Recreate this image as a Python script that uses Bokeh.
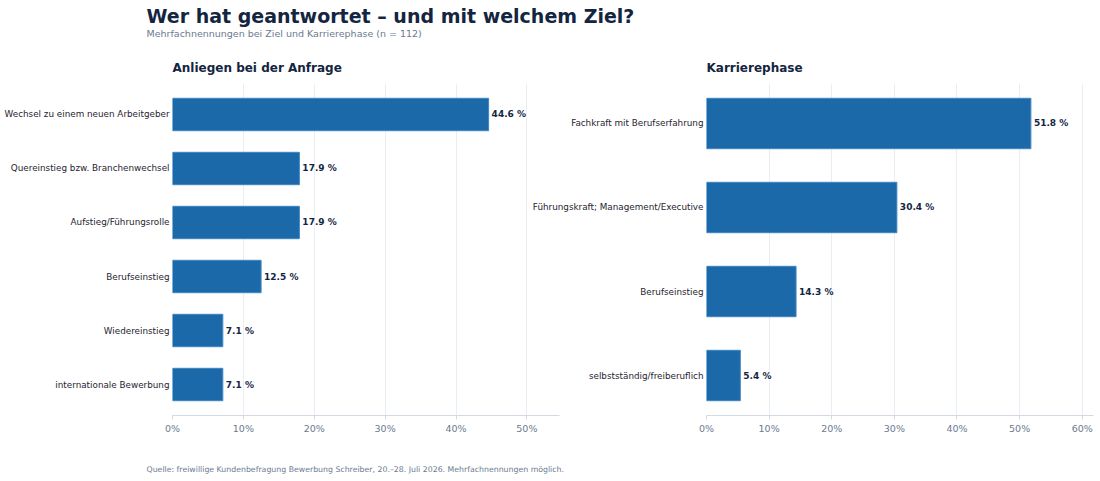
from bokeh.plotting import figure
from bokeh.layouts import column, row
from bokeh.models import FactorRange, Range1d, PrintfTickFormatter, ColumnDataSource, FixedTicker
from bokeh.core.properties import value
from bokeh.embed import file_html
from bokeh.resources import INLINE

# --- data -------------------------------------------------------------
goal_labels = [
    "Wechsel zu einem neuen Arbeitgeber",
    "Quereinstieg bzw. Branchenwechsel",
    "Aufstieg/Führungsrolle",
    "Berufseinstieg",
    "Wiedereinstieg",
    "internationale Bewerbung",
]
goal_values = [44.6, 17.9, 17.9, 12.5, 7.1, 7.1]

phase_labels = [
    "Fachkraft mit Berufserfahrung",
    "Führungskraft; Management/Executive",
    "Berufseinstieg",
    "selbstständig/freiberuflich",
]
phase_values = [51.8, 30.4, 14.3, 5.4]

goal_ticks = [0, 10, 20, 30, 40, 50]
phase_ticks = [0, 10, 20, 30, 40, 50, 60]

title_text = "Wer hat geantwortet – und mit welchem Ziel?"
subtitle_text = "Mehrfachnennungen bei Ziel und Karrierephase (n = 112)"
goal_title = "Anliegen bei der Anfrage"
phase_title = "Karrierephase"
source_text = "Quelle: freiwillige Kundenbefragung Bewerbung Schreiber, 20.–28. Juli 2026. Mehrfachnennungen möglich."

# --- styling ----------------------------------------------------------
FONT = "DejaVu Sans"
NAVY = "#14253f"
BAR = "#1b69a9"
BAR_EDGE = "#3f86c2"
MUTED = "#6b7a90"
LABEL = "#1f2430"
GRID = "#e9eef5"
AXIS = "#d3dae3"

HEADER_H = 83
PANEL_H = 362
FOOTER_H = 481 - HEADER_H - PANEL_H


def blank(width, height):
    p = figure(width=width, height=height, x_range=Range1d(0, width), y_range=Range1d(height, 0),
               min_border=0, toolbar_location=None, output_backend="svg")
    p.axis.visible = False
    p.grid.visible = False
    p.outline_line_color = None
    return p


def add_text(p, x, y, txt, size, color, bold=False):
    p.text(x=[x], y=[y], text=[txt], text_font=value(FONT), text_font_size=size,
           text_font_style="bold" if bold else "normal", text_color=color,
           text_baseline="middle", text_align="left")


header = blank(1100, HEADER_H)
add_text(header, 146, 15, title_text, "19px", NAVY, bold=True)
add_text(header, 146, 33, subtitle_text, "9.5px", MUTED)
add_text(header, 172, 67, goal_title, "12px", NAVY, bold=True)
add_text(header, 706, 67, phase_title, "12px", NAVY, bold=True)

footer = blank(1100, FOOTER_H)
add_text(footer, 146, 24, source_text, "7.8px", MUTED)


def panel(labels, values, ticks, x_end, width, border_left, border_right, pad, margin=None):
    cats = list(reversed(labels))
    p = figure(width=width, height=PANEL_H,
               y_range=FactorRange(factors=cats, range_padding=pad, range_padding_units="absolute"),
               x_range=Range1d(0, x_end),
               min_border_left=border_left, min_border_right=border_right,
               min_border_top=0, min_border_bottom=30,
               toolbar_location=None, output_backend="svg")
    if margin is not None:
        p.margin = margin
    # transparent canvas so a neighbouring panel can show through
    p.background_fill_color = None
    p.border_fill_color = None

    src = ColumnDataSource(dict(cat=labels, val=values, txt=[f"{v:.1f} %" for v in values]))
    p.hbar(y="cat", left=0, right="val", height=0.6, source=src,
           fill_color=BAR, line_color=BAR_EDGE, line_width=1)
    p.text(x="val", y="cat", text="txt", source=src, x_offset=3,
           text_font=value(FONT), text_font_size="9px", text_font_style="bold",
           text_color=NAVY, text_baseline="middle", text_align="left")

    p.outline_line_color = None
    p.ygrid.grid_line_color = None
    p.xgrid.grid_line_color = GRID
    p.xgrid.grid_line_width = 1

    xa = p.xaxis[0]
    xa.ticker = FixedTicker(ticks=ticks)
    xa.formatter = PrintfTickFormatter(format="%d%%")
    xa.axis_line_color = AXIS
    xa.major_tick_line_color = AXIS
    xa.major_tick_out = 4
    xa.major_tick_in = 0
    xa.minor_tick_line_color = None
    xa.major_label_text_color = MUTED
    xa.major_label_text_font = FONT
    xa.major_label_text_font_size = "9.5px"
    xa.major_label_standoff = 3

    ya = p.yaxis[0]
    ya.axis_line_color = None
    ya.major_tick_line_color = None
    ya.minor_tick_line_color = None
    ya.major_tick_out = 0
    ya.major_tick_in = 0
    ya.minor_tick_out = 0
    ya.minor_tick_in = 0
    ya.axis_label_standoff = 0
    ya.major_label_text_color = LABEL
    ya.major_label_text_font = FONT
    ya.major_label_text_font_size = "8.8px"
    ya.major_label_standoff = 3
    return p


p1 = panel(goal_labels, goal_values, goal_ticks, 54.6, 560, 172, 1, 0.074)
p2 = panel(phase_labels, phase_values, phase_ticks, 61.8, 574, 180, 7, -0.024,
           margin=(0, 0, 0, -34))

layout = column(header, row(p1, p2, spacing=0), footer, spacing=0)

open("out.html", "w").write(file_html(layout, INLINE))
